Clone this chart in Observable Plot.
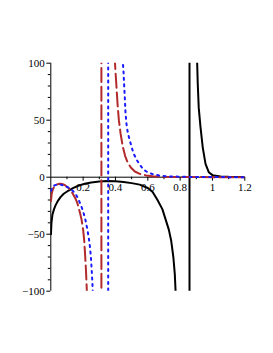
<!DOCTYPE html>
<html><head><meta charset="utf-8">
<script src="https://cdn.jsdelivr.net/npm/d3@7"></script>
<script src="https://cdn.jsdelivr.net/npm/@observablehq/plot@0.6"></script>
<style>html,body{margin:0;padding:0;background:#fff;}</style>
</head><body><div id="chart"></div>
<script>
// Series (black solid, red dashed, blue dotted)
const blackX = [0.001, 0.004, 0.01, 0.02, 0.03, 0.045, 0.06, 0.08, 0.11, 0.14, 0.17, 0.21, 0.25, 0.3, 0.35, 0.4, 0.45, 0.5, 0.55, 0.6, 0.63, 0.66, 0.69, 0.71, 0.73, 0.745, 0.758, 0.767, 0.775, 0.857, 0.859, 0.9, 0.905, 0.909, 0.915, 0.926, 0.94, 0.957, 0.977, 1.0, 1.05, 1.1, 1.2];
const blackY = [-50, -40, -33, -28, -24.5, -20.5, -17.5, -14.5, -11.7, -9.3, -7.5, -5.8, -4.6, -3.8, -3.4, -3.5, -4.2, -5.2, -6.5, -9.5, -13, -20, -28, -37, -46, -56, -70, -85, -110, -5000, 5000, 130, 102, 82, 61, 44, 26, 11.7, 4.4, 1.8, 0.6, 0.3, 0.1];

const redX = [0.001, 0.005, 0.012, 0.02, 0.03, 0.045, 0.06, 0.075, 0.09, 0.11, 0.13, 0.15, 0.165, 0.18, 0.19, 0.2, 0.207, 0.213, 0.218, 0.223, 0.228, 0.3125, 0.3135, 0.392, 0.396, 0.4, 0.406, 0.413, 0.421, 0.432, 0.445, 0.46, 0.475, 0.495, 0.52, 0.55, 0.59, 0.63, 0.7, 0.8, 0.9, 1.0, 1.1, 1.2];
const redY = [-21, -15, -11, -8.5, -7, -6, -5.8, -6.2, -7.2, -9.5, -13, -18, -23, -31, -37, -46, -56, -70, -83, -100, -120, -5000, 5000, 120, 103, 93, 80, 64, 50, 38, 27, 18.5, 13, 8.5, 5, 3, 1.5, 0.9, 0.4, 0.2, 0.1, 0.05, 0.03, 0.02];

const blueX = [0.001, 0.01, 0.025, 0.04, 0.06, 0.08, 0.1, 0.12, 0.14, 0.155, 0.173, 0.19, 0.204, 0.215, 0.225, 0.235, 0.243, 0.249, 0.254, 0.258, 0.262, 0.3545, 0.3555, 0.44, 0.445, 0.45, 0.454, 0.458, 0.462, 0.468, 0.475, 0.485, 0.495, 0.51, 0.53, 0.55, 0.575, 0.6, 0.63, 0.67, 0.72, 0.8, 0.9, 1.0, 1.1, 1.2];
const blueY = [-12, -8.5, -7, -6.5, -6.5, -7.3, -8.5, -10, -12.5, -15, -20, -26, -32, -38, -45, -53, -62, -72, -84, -95, -110, -5000, 5000, 110, 102, 92, 80, 69, 57, 47, 40, 34, 29, 21.5, 15.5, 11, 6.5, 4.2, 2.7, 1.5, 0.8, 0.4, 0.2, 0.1, 0.06, 0.04];

// Tick values and labels
const xMajor = [0.2, 0.4, 0.6, 0.8, 1, 1.2];
const xLabels = ["0.2", "0.4", "0.6", "0.8", "1", "1.2"];
const xMinor = [0.1, 0.3, 0.5, 0.7, 0.9, 1.1];
const yMajor = [-100, -50, 0, 50, 100];
const yLabels = ["\u2212100", "\u221250", "0", "50", "100"];
const yMinor = [-90, -80, -70, -60, -40, -30, -20, -10, 10, 20, 30, 40, 60, 70, 80, 90];

const rows = (xs, ys) => xs.map((x, i) => ({x, y: ys[i]}));

const W = 273, H = 353, mL = 50.3, mR = 28.7, mT = 62.7, mB = 62.3;
const pxX = 1.2 / (W - mL - mR), pxY = 200 / (H - mT - mB);

const chart = Plot.plot({
  width: W, height: H,
  marginLeft: mL, marginRight: mR, marginTop: mT, marginBottom: mB,
  x: {domain: [0, 1.2], axis: null},
  y: {domain: [-100, 100], axis: null},
  style: {fontFamily: "'Liberation Serif', 'Times New Roman', serif", fontSize: "11px", background: "white", color: "black"},
  marks: [
    Plot.ruleY([0], {x1: 0, x2: 1.2, stroke: "black", strokeWidth: 1}),
    Plot.ruleX([0], {y1: -100, y2: 100, stroke: "black", strokeWidth: 1}),
    Plot.ruleX(xMinor, {x: d => d, y1: 0, y2: -2.5 * pxY, stroke: "black"}),
    Plot.ruleX(xMajor, {x: d => d, y1: 0, y2: -4 * pxY, stroke: "black"}),
    Plot.ruleY(yMinor, {y: d => d, x1: 0, x2: -2.5 * pxX, stroke: "black"}),
    Plot.ruleY(yMajor, {y: d => d, x1: 0, x2: -4 * pxX, stroke: "black"}),
    Plot.text(xMajor, {x: d => d, y: 0, text: (d, i) => xLabels[i], dy: 10, fill: "black"}),
    Plot.text(yMajor, {x: 0, y: d => d, text: (d, i) => yLabels[i], dx: -6, textAnchor: "end", fill: "black"}),
    Plot.line(rows(blackX, blackY), {x: "x", y: "y", stroke: "black", strokeWidth: 2, clip: true}),
    Plot.line(rows(redX, redY), {x: "x", y: "y", stroke: "#b22a2a", strokeWidth: 2, strokeDasharray: "14,4.7", clip: true}),
    Plot.line(rows(blueX, blueY), {x: "x", y: "y", stroke: "#1a1aff", strokeWidth: 2, strokeDasharray: "2,4.5", clip: true})
  ]
});
document.getElementById("chart").append(chart);
</script>
</body></html>
